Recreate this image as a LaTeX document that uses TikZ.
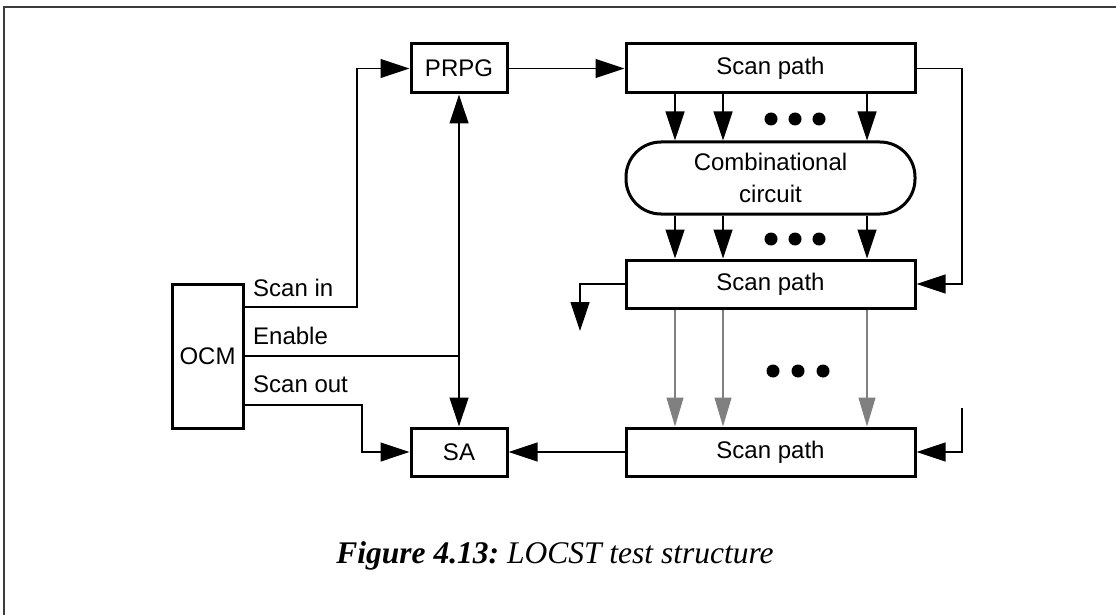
\documentclass[tikz,border=0pt]{standalone}
\usepackage{fontspec}
\setmainfont{Liberation Serif}
\setsansfont{Liberation Sans}
\usetikzlibrary{arrows.meta}
\definecolor{grayline}{RGB}{128,128,128}
\definecolor{framecol}{RGB}{60,60,60}
\begin{document}
\begin{tikzpicture}[x=1pt,y=-1pt,
  box/.style={draw=black, line width=3pt, inner sep=0pt, fill=white,
    font=\sffamily\fontsize{24}{32}\selectfont, align=center},
  wire/.style={draw=black, line width=1.2pt},
  arr/.style={wire, -{Triangle[length=29pt,width=19pt]}},
  darr/.style={wire, {Triangle[length=29pt,width=19pt]}-{Triangle[length=29pt,width=19pt]}},
  garr/.style={draw=grayline, line width=1.2pt, -{Triangle[length=29pt,width=17pt]}},
  lbl/.style={font=\sffamily\fontsize{24}{28}\selectfont, anchor=west, inner sep=0pt},
  dot/.style={fill=black, draw=none}
]
\useasboundingbox (0,0) rectangle (1116,615);
% frame (top and left edges)
\draw[framecol, line width=2pt] (4,615) -- (4,7.5) -- (1116,7.5);

% nodes
\node[box, minimum width=96pt, minimum height=49pt] (prpg) at (459,68.5) {PRPG};
\node[box, minimum width=289pt, minimum height=49pt] (sp1) at (770.5,68.5) {Scan path};
\node[box, minimum width=289pt, minimum height=72pt, rounded corners=35pt] (comb) at (770.5,178) {Combinational\\circuit};
\node[box, minimum width=289pt, minimum height=48pt] (sp2) at (770.5,284) {Scan path};
\node[box, minimum width=289pt, minimum height=48pt] (sp3) at (770.5,452) {Scan path};
\node[box, minimum width=96pt, minimum height=48pt] (sa) at (459,452) {SA};
\node[box, minimum width=71pt, minimum height=144pt] (ocm) at (207.5,356) {OCM};

% labels
\node[lbl] (lin) at (253,288) {Scan in};
\node[lbl] (len) at (253,336) {Enable};
\node[lbl] (lout) at (253,384) {Scan out};

% helper coordinates
\coordinate (xa) at (675,0);
\coordinate (xb) at (723,0);
\coordinate (xc) at (867,0);
\coordinate (xin) at (357,0);
\coordinate (xout) at (362,0);
\coordinate (xv) at (459,0);
\coordinate (xr) at (962,0);
\coordinate (xl) at (580,0);
\coordinate (ocmin) at (243,307);
\coordinate (ocmen) at (243,356);
\coordinate (ocmout) at (243,405);
\coordinate (rtop) at (962,408);
\coordinate (ltip) at (580,331);

% OCM connections
\draw[arr] (ocm.east |- ocmin) -- (ocmin -| xin) -- (prpg.west -| xin) -- (prpg.west);
\draw[wire] (ocm.east |- ocmen) -- (ocmen -| xv);
\draw[arr] (ocm.east |- ocmout) -- (ocmout -| xout) -- (sa.west -| xout) -- (sa.west);
\draw[darr] (prpg.south) -- (sa.north);

% PRPG to scan path
\draw[arr] (prpg.east) -- (sp1.west);

% scan path chain on right
\draw[arr] (sp1.east) -- (sp1.east -| xr) -- (sp2.east -| xr) -- (sp2.east);
\draw[arr] (rtop) -- (sp3.east -| xr) -- (sp3.east);
\draw[arr] (sp2.west) -- (sp2.west -| xl) -- (ltip);
\draw[arr] (sp3.west) -- (sa.east);

% vertical arrows
\foreach \c in {xa,xb,xc}{
  \draw[arr] (sp1.south -| \c) -- (comb.north -| \c);
  \draw[arr] (comb.south -| \c) -- (sp2.north -| \c);
  \draw[garr] (sp2.south -| \c) -- (sp3.north -| \c);
}

% dots
\foreach \x in {771,795,819}{
  \fill[dot] (\x,119) circle (6.5pt);
  \fill[dot] (\x,239) circle (6.5pt);
}
\foreach \x in {773,798,823}{
  \fill[dot] (\x,371) circle (6.5pt);
}

% caption
\node[font=\rmfamily\fontsize{31.5}{36}\selectfont, inner sep=0pt] (cap) at (555,556)
  {\bfseries\itshape Figure 4.13:\mdseries\ LOCST test structure};
\end{tikzpicture}
\end{document}
